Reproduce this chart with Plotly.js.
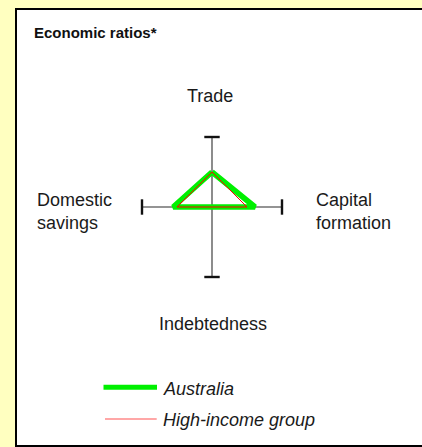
<!DOCTYPE html>
<html>
<head>
<meta charset="utf-8">
<script src="https://cdn.plot.ly/plotly-3.0.1.min.js"></script>
<style>
  html, body { margin: 0; padding: 0; background: #ffffc0; overflow: hidden; }
  #frame { position: absolute; left: 15px; top: 8px; width: 420px; height: 435px; background: #ffffff; border: 2px solid #000; }
  #chart { position: absolute; left: 0; top: 0; width: 422px; height: 447px; }
</style>
</head>
<body>
<div id="frame"></div>
<div id="chart"></div>
<script>
// ---- Data ----
const axisLabels = ['Trade', 'Capital<br>formation', 'Indebtedness', 'Domestic<br>savings'];
const seriesNames = ['Australia', 'High-income group'];
const australia = [1.0, 1.23, 0, 1.11];
const highIncome = [1.0, 1.0, 0, 1.0];
const axisMax = 2;

// ---- Geometry helpers ----
const dirs = [[0, 1], [1, 0], [0, -1], [-1, 0]]; // Trade up, Capital right, Indebtedness down, Savings left
function polygon(vals) {
  const xs = [], ys = [];
  vals.forEach((v, i) => { xs.push(v * dirs[i][0]); ys.push(v * dirs[i][1]); });
  xs.push(xs[0]); ys.push(ys[0]);
  return { x: xs, y: ys };
}

const W = 422, H = 447;
const cx = 212, cy = 207, pxPerUnit = 35;
const FONT = 'Liberation Sans, Arial, Helvetica, sans-serif';

const traces = [];
// spokes
traces.push({ x: [0, 0], y: [-axisMax, axisMax], mode: 'lines', line: { color: '#707070', width: 1.6 }, hoverinfo: 'skip', showlegend: false });
traces.push({ x: [-axisMax, axisMax], y: [0, 0], mode: 'lines', line: { color: '#707070', width: 1.6 }, hoverinfo: 'skip', showlegend: false });
// end caps
traces.push({ x: [0, 0], y: [-axisMax, axisMax], mode: 'markers', marker: { symbol: 'line-ew', size: 11, line: { color: '#111', width: 2.4 } }, hoverinfo: 'skip', showlegend: false });
traces.push({ x: [-axisMax, axisMax], y: [0, 0], mode: 'markers', marker: { symbol: 'line-ns', size: 11, line: { color: '#111', width: 2.4 } }, hoverinfo: 'skip', showlegend: false });
// series
const pa = polygon(australia);
traces.push({ x: pa.x, y: pa.y, mode: 'lines', name: seriesNames[0], line: { color: '#00f000', width: 5.5 }, showlegend: false });
const ph = polygon(highIncome);
traces.push({ x: ph.x, y: ph.y, mode: 'lines', name: seriesNames[1], line: { color: '#ff0000', width: 1 }, showlegend: false });

function px(x) { return x / W; }
function py(y) { return 1 - y / H; }

const labelFont = { family: FONT, size: 18, color: '#1a1a1a' };
const annotations = [
  { text: '<b>Economic ratios*</b>', x: px(31.5), y: py(32.5), xanchor: 'left', yanchor: 'middle', font: { family: FONT, size: 15, color: '#111' } },
  { text: axisLabels[0], x: px(210), y: py(95.5), xanchor: 'center', yanchor: 'middle', font: labelFont },
  { text: axisLabels[1], x: px(314), y: py(211.5), xanchor: 'left', yanchor: 'middle', align: 'left', font: labelFont },
  { text: axisLabels[2], x: px(213), y: py(324), xanchor: 'center', yanchor: 'middle', font: labelFont },
  { text: axisLabels[3], x: px(34.5), y: py(211.5), xanchor: 'left', yanchor: 'middle', align: 'left', font: labelFont },
  { text: '<i>' + seriesNames[0] + '</i>', x: px(160.5), y: py(389), xanchor: 'left', yanchor: 'middle', font: labelFont },
  { text: '<i>' + seriesNames[1] + '</i>', x: px(160.5), y: py(419.5), xanchor: 'left', yanchor: 'middle', font: labelFont }
].map(a => Object.assign({ xref: 'paper', yref: 'paper', showarrow: false }, a));

const shapes = [
  { type: 'line', xref: 'paper', yref: 'paper', x0: px(103.5), x1: px(157), y0: py(387.3), y1: py(387.3), line: { color: '#00f000', width: 5 } },
  { type: 'line', xref: 'paper', yref: 'paper', x0: px(105), x1: px(156.7), y0: py(419), y1: py(419), line: { color: '#ff5050', width: 1.2 } }
];

const layout = {
  width: W, height: H,
  margin: { l: 0, r: 0, t: 0, b: 0 },
  paper_bgcolor: 'rgba(0,0,0,0)',
  plot_bgcolor: 'rgba(0,0,0,0)',
  showlegend: false,
  xaxis: { range: [-cx / pxPerUnit, (W - cx) / pxPerUnit], visible: false, fixedrange: true },
  yaxis: { range: [-(H - cy) / pxPerUnit, cy / pxPerUnit], visible: false, fixedrange: true },
  annotations: annotations,
  shapes: shapes
};

Plotly.newPlot('chart', traces, layout, { displayModeBar: false, staticPlot: true });
</script>
</body>
</html>
